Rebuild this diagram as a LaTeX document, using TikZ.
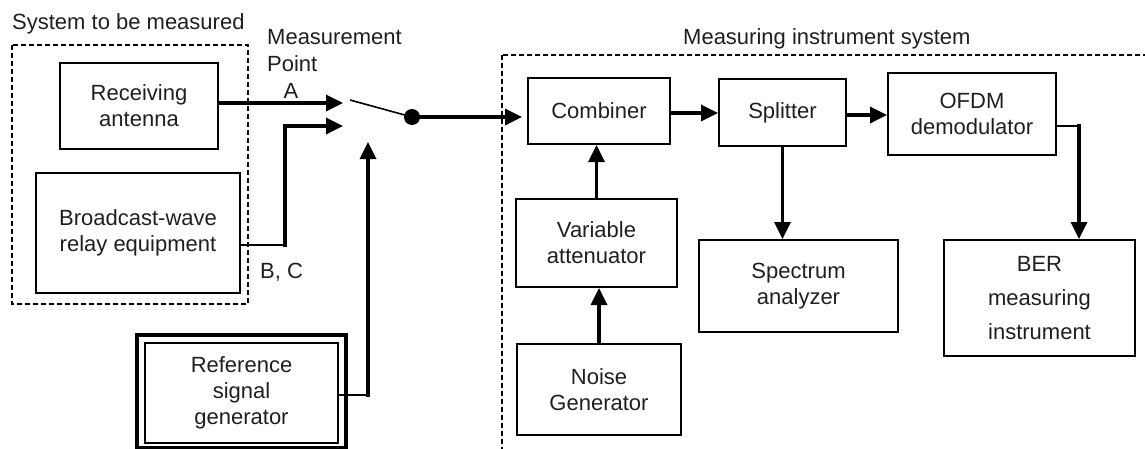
\documentclass[tikz,border=0pt]{standalone}
\usepackage{fontspec}
\setmainfont{Liberation Sans}
\usetikzlibrary{arrows.meta,calc}
\begin{document}
\begin{tikzpicture}[x=1pt,y=-1pt,
  txt/.style={font=\fontsize{22}{26}\selectfont,text=black!88},
  box/.style={txt,draw,line width=2pt,inner sep=0pt,align=center},
  lbl/.style={txt,inner sep=0pt},
  arr/.style={line width=3.4pt,line cap=rect,-{Triangle[length=17pt,width=16pt]}},
  stub/.style={line width=2pt},
  cont/.style={line width=2pt,dash pattern=on 5pt off 3pt},
]
\useasboundingbox (0,0) rectangle (1145,448);
\clip (0,0) rectangle (1145,448);

% containers
\draw[cont] (12,45) rectangle (248,304);
\draw[cont] (502,55) rectangle (1170,470);

% labels
\node[lbl,anchor=base west] (lsys) at (12,29) {System to be measured};
\node[lbl,anchor=base west] (lmp1) at (267,44) {Measurement};
\node[lbl,anchor=base west] (lmp2) at (267,71) {Point};
\node[lbl,anchor=base] (la) at (291,98) {A};
\node[lbl,anchor=base west] (lbc) at (260,278) {B, C};
\node[lbl,anchor=base west] (lmis) at (683,44) {Measuring instrument system};

% boxes
\node[box,minimum width=158pt,minimum height=86pt] (ant) at (139,106) {Receiving\\antenna};
\node[box,minimum width=204pt,minimum height=120pt] (relay) at (138,233) {Broadcast-wave\\relay equipment};
\node[box,minimum width=193pt,minimum height=100pt] (ref) at (241.5,393) {Reference\\signal\\generator};
\draw[line width=4pt] ($(ref.north west)+(-7,-7)$) rectangle ($(ref.south east)+(7,4)$);

\node[box,minimum width=142pt,minimum height=66pt] (comb) at (599,111) {Combiner};
\node[box,minimum width=127pt,minimum height=67pt] (split) at (782.5,112.5) {Splitter};
\node[box,minimum width=168pt,minimum height=82pt] (ofdm) at (972,114) {OFDM\\demodulator};
\node[box,minimum width=161pt,minimum height=88pt] (att) at (596.5,243) {Variable\\attenuator};
\node[box,minimum width=164pt,minimum height=91pt] (noise) at (599,389.5) {Noise\\Generator};
\node[box,minimum width=199pt,minimum height=92pt] (spec) at (798.5,286) {Spectrum\\analyzer};
\node[box,minimum width=191pt,minimum height=116pt,font=\fontsize{22}{34}\selectfont] (ber) at (1039.5,298) {BER\\measuring\\instrument};

% switch
\coordinate (swA) at (343,103);
\coordinate (swB) at (343,126);
\coordinate (swC) at (368,142);
\coordinate (blade) at (350,100);
\node[circle,fill=black,inner sep=0pt,minimum size=16pt] (dot) at (412,117) {};
\draw[line width=1.6pt] (blade) -- (dot.center);

% connectors
\draw[arr] (ant.east |- swA) -- (swA);
\coordinate (bc) at (285,245);
\draw[stub] (relay.east |- bc) -- (bc);
\draw[arr] (bc) |- (swB);
\coordinate (rc) at (368,395);
\draw[stub] (ref.east |- rc) -- (rc);
\draw[arr] (rc) -- (swC);
\draw[arr,shorten >=5pt] (dot.center) -- (dot.center -| comb.west);

\draw[arr] ([yshift=-2pt]comb.east) -- ([yshift=-2pt]comb.east -| split.west);
\draw[arr] ([yshift=-2.5pt]split.east) -- ([yshift=-2.5pt]split.east -| ofdm.west);
\draw[arr] (split.south) -- (split.south |- spec.north);
\coordinate (ot) at (1079,126);
\draw[stub] (ofdm.east |- ot) -- (ot);
\draw[arr] (ot) -- (ot |- ber.north);
\draw[arr] (att.north) -- (att.north |- comb.south);
\draw[arr] (noise.north) -- (noise.north |- att.south);
\end{tikzpicture}
\end{document}
